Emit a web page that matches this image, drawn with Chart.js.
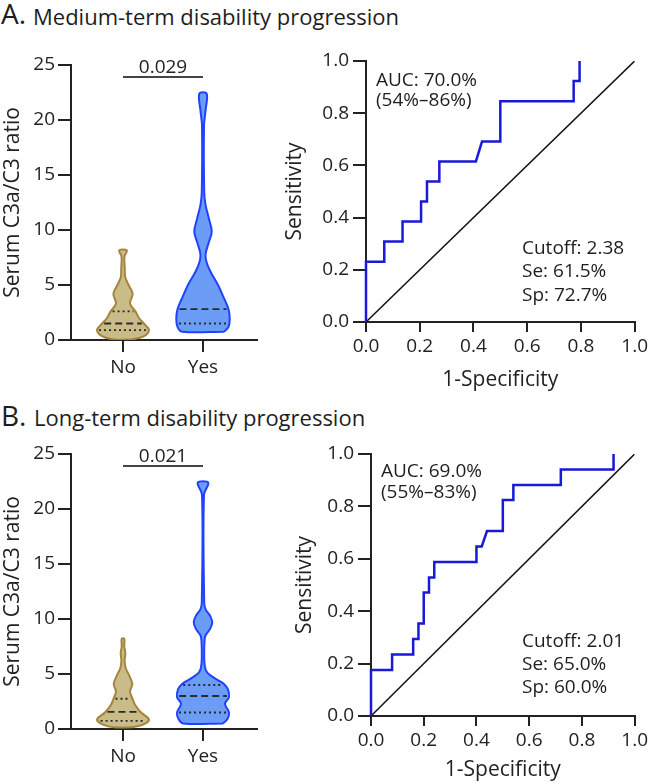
<!DOCTYPE html>
<html>
<head>
<meta charset="utf-8">
<script src="https://cdn.jsdelivr.net/npm/chart.js@4.4.0/dist/chart.umd.min.js"></script>
<style>
body { margin: 0; background: #fff; }
#fig { position: relative; width: 651px; height: 784px; font-family: 'Open Sans', sans-serif; color: #1e1e1e; overflow: hidden; }
#fig canvas { position: absolute; }
.txt { position: absolute; white-space: nowrap; }
.note { font-size: 19px; line-height: 19px; }
</style>
</head>
<body>
<div id="fig">
  <div class="txt" style="left:1px;top:-1px;font-size:28px;line-height:28px">A.</div>
  <div class="txt" style="left:33px;top:4.5px;font-size:22px;line-height:22px">Medium-term disability progression</div>
  <div class="txt" style="left:1px;top:400.5px;font-size:28px;line-height:28px">B.</div>
  <div class="txt" style="left:34px;top:406px;font-size:22px;line-height:22px">Long-term disability progression</div>

  <canvas id="violinA" width="280" height="350" style="left:0;top:40px"></canvas>
  <canvas id="rocA" width="369" height="353" style="left:282px;top:40px"></canvas>
  <canvas id="violinB" width="280" height="350" style="left:0;top:432px"></canvas>
  <canvas id="rocB" width="359" height="351" style="left:292px;top:432px"></canvas>

  <div class="txt note" style="left:376px;top:70px">AUC: 70.0%</div>
  <div class="txt note" style="left:376px;top:89.5px">(54%–86%)</div>
  <div class="txt note" style="left:522px;top:237.5px">Cutoff: 2.38</div>
  <div class="txt note" style="left:522px;top:261px">Se: 61.5%</div>
  <div class="txt note" style="left:522px;top:284.5px">Sp: 72.7%</div>

  <div class="txt note" style="left:381px;top:460.5px">AUC: 69.0%</div>
  <div class="txt note" style="left:381px;top:482px">(55%–83%)</div>
  <div class="txt note" style="left:522px;top:630.5px">Cutoff: 2.01</div>
  <div class="txt note" style="left:522px;top:654px">Se: 65.0%</div>
  <div class="txt note" style="left:522px;top:676.5px">Sp: 60.0%</div>
</div>
<script>
Chart.defaults.font.family = "'Open Sans', sans-serif";
Chart.defaults.font.size = 19;
Chart.defaults.color = '#222';

const groups = ['No', 'Yes'];
const violinTicks = [0, 5, 10, 15, 20, 25];
const rocTicks = [0, 0.2, 0.4, 0.6, 0.8, 1.0];

// violin profiles: ratio level and half width (in group units)
const noA_levels = [0.05, 0.3, 0.9, 1.5, 2.0, 2.6, 3.3, 4.2, 5.0, 5.7, 6.5, 7.6, 8.15];
const noA_width = [0.10, 0.25, 0.325, 0.26, 0.20, 0.155, 0.088, 0.12, 0.07, 0.028, 0.022, 0.019, 0.048];
const yesA_levels = [0.75, 1.2, 1.9, 2.8, 3.8, 5.0, 6.2, 7.1, 7.8, 8.8, 9.85, 11.0, 12.3, 13.5, 19.5, 20.8, 22.4];
const yesA_width = [0.262, 0.319, 0.334, 0.319, 0.262, 0.188, 0.094, 0.044, 0.032, 0.069, 0.109, 0.075, 0.031, 0.015, 0.0125, 0.031, 0.046];
const noA_quart = [0.9, 1.5, 2.6];
const yesA_quart = [1.5, 2.8];

const noB_levels = [0.15, 0.4, 0.85, 1.55, 2.2, 2.75, 3.4, 4.1, 4.9, 5.5, 6.2, 6.9, 7.5, 8.2];
const noB_width = [0.112, 0.25, 0.325, 0.219, 0.15, 0.119, 0.088, 0.116, 0.075, 0.035, 0.02, 0.029, 0.016, 0.016];
const yesB_levels = [0.5, 0.9, 1.5, 2.3, 2.9, 3.6, 4.1, 4.6, 5.1, 5.6, 6.5, 8.0, 8.5, 9.1, 9.7, 10.3, 10.9, 11.5, 21.3, 22.4];
const yesB_width = [0.25, 0.306, 0.325, 0.275, 0.325, 0.312, 0.262, 0.15, 0.056, 0.025, 0.015, 0.019, 0.031, 0.088, 0.116, 0.088, 0.031, 0.015, 0.0125, 0.066];
const noB_quart = [0.73, 1.55, 2.75];
const yesB_quart = [1.5, 3.0, 4.0];

const sigLevel = 23.9;
const pValueA = '0.029';
const pValueB = '0.021';

// ROC curves
const rocA_fpr = [0, 0, 0.068, 0.068, 0.136, 0.136, 0.205, 0.205, 0.227, 0.227, 0.273, 0.273, 0.409, 0.432, 0.5, 0.5, 0.773, 0.773, 0.795, 0.795];
const rocA_tpr = [0, 0.231, 0.231, 0.308, 0.308, 0.385, 0.385, 0.462, 0.462, 0.538, 0.538, 0.615, 0.615, 0.692, 0.692, 0.846, 0.846, 0.923, 0.923, 1.0];
const rocB_fpr = [0, 0, 0.08, 0.08, 0.16, 0.16, 0.18, 0.18, 0.20, 0.20, 0.22, 0.22, 0.24, 0.24, 0.40, 0.40, 0.42, 0.44, 0.50, 0.50, 0.54, 0.54, 0.72, 0.72, 0.92, 0.92];
const rocB_tpr = [0, 0.176, 0.176, 0.235, 0.235, 0.294, 0.294, 0.353, 0.353, 0.471, 0.471, 0.529, 0.529, 0.588, 0.588, 0.647, 0.647, 0.706, 0.706, 0.824, 0.824, 0.882, 0.882, 0.941, 0.941, 1.0];

const noFill = '#c9bc88', noBorder = '#a5843c';
const yesFill = '#6c9df6', yesBorder = '#2042ff';
const rocBlue = '#1919d7';
const ink = '#222';

function outline(center, levels, widths) {
    const right = levels.map((v, i) => ({ x: center + widths[i], y: v }));
    const left = levels.map((v, i) => ({ x: center - widths[i], y: v })).reverse();
    return right.concat(left, [right[0]]);
}

function widthAt(levels, widths, v) {
    for (let i = 1; i < levels.length; i++) {
        if (v <= levels[i]) {
            const t = (v - levels[i - 1]) / (levels[i] - levels[i - 1]);
            return widths[i - 1] + t * (widths[i] - widths[i - 1]);
        }
    }
    return widths[widths.length - 1];
}

function quartileSets(center, levels, widths, quart) {
    // middle entry is the median (dashed), the others are quartiles (dotted)
    const mid = quart.length === 3 ? 1 : quart.length - 1;
    return quart.map((v, i) => {
        const w = widthAt(levels, widths, v) - 0.025;
        return {
            data: [{ x: center - w, y: v }, { x: center + w, y: v }],
            showLine: true, pointRadius: 0, borderColor: '#2a2a2a', borderWidth: 1.8,
            borderDash: i === mid ? [7, 4] : [2, 3], order: 1
        };
    });
}

const pLabelPlugin = {
    id: 'pLabel',
    afterDatasetsDraw(chart, args, opts) {
        if (!opts.text) return;
        const { ctx, scales: { x, y } } = chart;
        const cx = (x.getPixelForValue(1) + x.getPixelForValue(2)) / 2;
        const cy = y.getPixelForValue(sigLevel);
        ctx.save();
        ctx.font = "19px 'Open Sans'";
        ctx.fillStyle = ink;
        ctx.textAlign = 'center';
        ctx.textBaseline = 'alphabetic';
        ctx.fillText(opts.text, cx, cy - 4);
        ctx.restore();
    }
};

function axisStyle(tickLen) {
    return {
        grid: { drawOnChartArea: false, tickLength: tickLen, color: ink, lineWidth: 2 },
        border: { color: ink, width: 2 }
    };
}

function violinChart(id, noL, noW, noQ, yesL, yesW, yesQ, pText, padTop, xHeight) {
    const datasets = [
        { data: outline(1, noL, noW), showLine: true, fill: 'shape', tension: 0.35, pointRadius: 0,
          borderColor: noBorder, backgroundColor: noFill, borderWidth: 2, order: 2 },
        { data: outline(2, yesL, yesW), showLine: true, fill: 'shape', tension: 0.35, pointRadius: 0,
          borderColor: yesBorder, backgroundColor: yesFill, borderWidth: 2, order: 2 }
    ].concat(quartileSets(1, noL, noW, noQ), quartileSets(2, yesL, yesW, yesQ), [
        { data: [{ x: 1, y: sigLevel }, { x: 2, y: sigLevel }], showLine: true, pointRadius: 0,
          borderColor: '#444', borderWidth: 2, clip: false, order: 0 }
    ]);

    return new Chart(document.getElementById(id), {
        type: 'scatter',
        data: { datasets: datasets },
        plugins: [pLabelPlugin],
        options: {
            responsive: false,
            animation: false,
            layout: { padding: { top: padTop, right: 23, left: 0, bottom: 0 } },
            plugins: { legend: { display: false }, tooltip: { enabled: false }, pLabel: { text: pText } },
            scales: {
                x: Object.assign({
                    type: 'linear', min: 0.35, max: 2.675,
                    afterBuildTicks: s => { s.ticks = groups.map((g, i) => ({ value: i + 1 })); },
                    ticks: { callback: (v, i) => groups[i], padding: 4 },
                    afterFit: s => { s.height = xHeight; }
                }, axisStyle(12)),
                y: Object.assign({
                    min: violinTicks[0], max: violinTicks[violinTicks.length - 1],
                    afterBuildTicks: s => { s.ticks = violinTicks.map(v => ({ value: v })); },
                    ticks: { padding: 3 },
                    title: { display: true, text: 'Serum C3a/C3 ratio', font: { size: 21 }, padding: 0 },
                    afterFit: s => { s.width = 71; }
                }, axisStyle(13))
            }
        }
    });
}

function rocChart(id, fpr, tpr, pad, yWidth, xHeight) {
    return new Chart(document.getElementById(id), {
        type: 'scatter',
        data: {
            datasets: [
                { data: fpr.map((f, i) => ({ x: f, y: tpr[i] })), showLine: true, pointRadius: 0,
                  borderColor: rocBlue, borderWidth: 2.5, clip: false, order: 0 },
                { data: [{ x: 0, y: 0 }, { x: 1, y: 1 }], showLine: true, pointRadius: 0,
                  borderColor: '#111', borderWidth: 1.5, order: 1 }
            ]
        },
        options: {
            responsive: false,
            animation: false,
            layout: { padding: pad },
            plugins: { legend: { display: false }, tooltip: { enabled: false } },
            scales: {
                x: Object.assign({
                    type: 'linear', min: 0, max: 1,
                    afterBuildTicks: s => { s.ticks = rocTicks.map(v => ({ value: v })); },
                    ticks: { callback: v => v.toFixed(1), padding: 3, maxRotation: 0 },
                    title: { display: true, text: '1-Specificity', font: { size: 21 }, padding: 0 },
                    afterFit: s => { s.height = xHeight; }
                }, axisStyle(10)),
                y: Object.assign({
                    min: 0, max: 1,
                    afterBuildTicks: s => { s.ticks = rocTicks.map(v => ({ value: v })); },
                    ticks: { callback: v => v.toFixed(1), padding: 4 },
                    title: { display: true, text: 'Sensitivity', font: { size: 21 }, padding: 0 },
                    afterFit: s => { s.width = yWidth; }
                }, axisStyle(13))
            }
        }
    });
}

violinChart('violinA', noA_levels, noA_width, noA_quart, yesA_levels, yesA_width, yesA_quart, pValueA, 25, 50);
violinChart('violinB', noB_levels, noB_width, noB_quart, yesB_levels, yesB_width, yesB_quart, pValueB, 22, 53);
rocChart('rocA', rocA_fpr, rocA_tpr, { top: 21, right: 16, left: 0, bottom: 0 }, 84, 71);
rocChart('rocB', rocB_fpr, rocB_tpr, { top: 22, right: 14, left: 0, bottom: 0 }, 79, 67);
</script>
</body>
</html>
